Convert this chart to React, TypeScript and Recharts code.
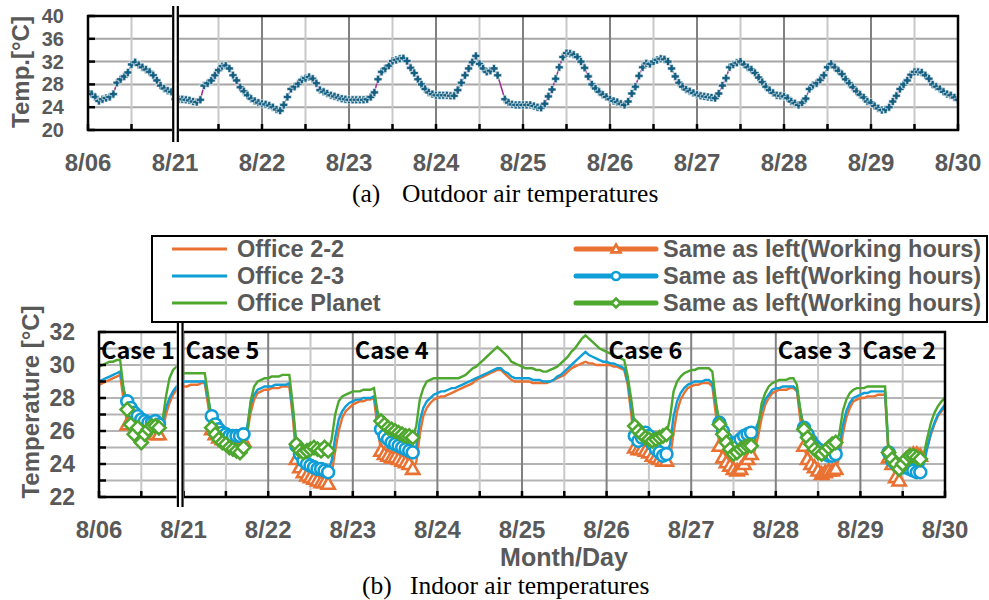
import React from "react";
import { LineChart, Line, XAxis, YAxis, CartesianGrid, ReferenceDot } from "recharts";

const FONT = "'Liberation Sans', Arial, sans-serif";
const CASE_FONT = "'Noto Sans CJK JP', 'Noto Sans', sans-serif";
const SERIF = "'Liberation Serif', 'DejaVu Serif', serif";
const GRAY = "#595959";
const ORANGE = "#E97132";
const BLUE = "#0F9ED5";
const GREEN = "#4EA72E";
const TEAL = "#156082";
const PURPLE = "#A02B93";

// 横軸: 8/06 の1日 + 8/21〜8/29 の9日 (日単位の数値軸)
const DAY_LABELS = ["8/06", "8/21", "8/22", "8/23", "8/24", "8/25", "8/26", "8/27", "8/28", "8/29", "8/30"];

// 外気温 (毎時, 1行=1日)
const OUTDOOR: (number | null)[][] = [
  [26.7, 26.3, 25.8, 25.1, 25.4, 25.6, 25.8, 26.3, 28.3, 28.9, 29.4, 30.1, 31.5, 31.9, 31.4, 31.0, 30.6, 30.2, 29.6, 28.7, 27.8, 27.3, 26.9, 26.7],
  [25.4, 25.4, 25.4, 25.3, 25.2, 25.0, 24.9, 25.3, 27.8, 28.2, 28.7, 29.6, 30.5, 31.2, 31.3, 30.8, 29.6, 28.7, 27.5, 26.8, 26.1, 25.5, 25.1, 24.8],
  [24.6, 24.5, 24.3, 24.0, 23.6, 23.4, 24.4, 25.8, 27.2, 27.6, 28.1, 28.8, 29.1, 29.3, 29.0, 28.2, 27.0, 26.7, 26.4, 26.1, 25.9, 25.7, 25.5, 25.4],
  [25.3, 25.3, 25.3, 25.3, 25.3, 25.4, 25.8, 26.6, 28.9, 30.2, 30.8, 31.3, 32.1, 32.3, 32.5, 32.6, 32.1, 30.9, 30.0, 28.9, 28.0, 27.2, 26.6, 26.3],
  [26.1, 26.1, 26.1, 26.1, 26.0, 26.0, 27.0, 28.3, 29.6, 30.8, 31.9, 33.0, 31.6, 30.8, 30.2, 30.4, 30.8, 29.6, null, 25.4, 24.8, 24.5, 24.4, 24.4],
  [24.4, 24.4, 24.4, 24.2, 24.0, 23.9, 24.6, 25.9, 27.1, 29.0, 31.0, 32.8, 33.5, 33.4, 33.2, 32.8, 32.0, 30.9, 29.4, 28.0, 27.3, 26.7, 26.2, 25.8],
  [25.4, 25.1, 24.9, 24.6, 24.4, 25.0, 26.4, 27.6, 29.5, 31.0, 31.7, 31.6, 32.0, 32.3, 32.5, 32.4, 32.0, 30.8, 29.4, 28.3, 27.6, 27.1, 26.8, 26.5],
  [26.2, 26.0, 25.9, 25.8, 25.7, 25.6, 26.4, 27.8, 29.1, 31.0, 31.5, 31.8, 32.0, 31.5, 31.0, 30.6, 30.0, 29.2, 28.4, 27.6, 27.0, 26.5, 26.1, 26.0],
  [25.9, 25.6, 25.0, 24.7, 24.4, 24.8, 25.5, 27.2, 27.9, 28.2, 28.8, 29.6, 31.0, 31.6, 31.0, 30.4, 29.8, 28.9, 28.2, 27.5, 26.8, 26.2, 25.7, 25.0],
  [24.8, 24.2, 23.8, 23.5, 23.6, 24.0, 25.0, 26.0, 27.2, 28.0, 28.7, 29.7, 30.2, 30.2, 30.1, 29.6, 29.0, 28.0, 27.6, 27.2, 26.7, 26.3, 26.1, 25.7],
];
const OUTDOOR_END = 25.3;

// 室温 Office 2-2
const OFFICE_22: number[][] = [
  [28.8, 28.9, 29.0, 29.1, 29.2, 29.3, 29.4, 27.8, 26.4, 26.7, 26.5, 26.3, 26.1, 26.0, 25.9, 25.9, 25.8, 25.8, 26.0, 27.0, 27.7, 28.2, 28.5, 28.6],
  [28.7, 28.7, 28.8, 28.8, 28.8, 28.9, 28.9, 27.5, 26.1, 25.8, 25.6, 25.5, 25.4, 25.3, 25.3, 25.3, 25.3, 25.4, 25.8, 27.1, 27.9, 28.3, 28.4, 28.5],
  [28.5, 28.6, 28.6, 28.6, 28.7, 28.7, 28.7, 26.8, 24.3, 23.8, 23.5, 23.3, 23.2, 23.1, 23.0, 22.9, 22.9, 22.8, 23.4, 24.8, 26.0, 26.8, 27.2, 27.4],
  [27.6, 27.7, 27.8, 27.8, 27.9, 27.9, 28.0, 26.2, 24.8, 24.6, 24.5, 24.4, 24.4, 24.3, 24.2, 24.1, 24.0, 23.7, 24.1, 25.8, 26.9, 27.4, 27.7, 27.9],
  [28.0, 28.1, 28.1, 28.2, 28.3, 28.4, 28.5, 28.6, 28.7, 28.8, 28.9, 29.1, 29.2, 29.3, 29.4, 29.5, 29.6, 29.7, 29.7, 29.5, 29.3, 29.1, 29.0, 29.0],
  [29.0, 29.0, 29.0, 28.9, 28.9, 28.9, 28.9, 28.9, 29.0, 29.1, 29.2, 29.3, 29.4, 29.6, 29.8, 29.9, 30.0, 30.1, 30.2, 30.1, 30.1, 30.0, 30.0, 30.0],
  [30.0, 30.0, 29.9, 29.9, 29.8, 29.7, 28.8, 27.0, 25.0, 24.9, 24.9, 24.8, 24.7, 24.5, 24.4, 24.3, 24.2, 24.2, 24.3, 25.9, 27.2, 27.9, 28.3, 28.6],
  [28.7, 28.8, 28.8, 28.9, 28.9, 28.9, 28.7, 27.0, 25.1, 24.4, 24.1, 23.9, 23.7, 23.6, 23.7, 24.0, 24.3, 24.6, 24.8, 25.7, 26.8, 27.6, 28.0, 28.3],
  [28.4, 28.5, 28.5, 28.5, 28.6, 28.6, 28.4, 26.6, 25.1, 24.3, 24.0, 23.8, 23.6, 23.4, 23.5, 23.6, 23.6, 23.7, 24.4, 25.8, 26.8, 27.4, 27.8, 27.9],
  [28.0, 28.0, 28.1, 28.1, 28.1, 28.2, 28.2, 28.2, 24.4, 24.0, 23.2, 23.0, 24.0, 24.3, 24.5, 24.6, 24.6, 24.5, 24.4, 25.0, 25.8, 26.4, 26.9, 27.2],
];
const OFFICE_22_END = 27.5;

// 室温 Office 2-3
const OFFICE_23: number[][] = [
  [29.0, 29.1, 29.2, 29.3, 29.4, 29.5, 29.6, 28.5, 27.8, 27.4, 27.1, 26.9, 26.7, 26.6, 26.5, 26.5, 26.6, 26.4, 26.6, 27.4, 28.0, 28.4, 28.7, 28.8],
  [29.0, 29.0, 29.0, 29.0, 29.0, 29.0, 29.0, 27.9, 26.9, 26.4, 26.1, 25.9, 25.8, 25.7, 25.7, 25.7, 25.7, 25.8, 26.2, 27.6, 28.2, 28.5, 28.6, 28.7],
  [28.7, 28.7, 28.8, 28.8, 28.8, 28.8, 28.9, 27.2, 25.1, 24.6, 24.2, 24.0, 23.9, 23.8, 23.7, 23.7, 23.6, 23.5, 24.2, 25.6, 26.7, 27.2, 27.5, 27.7],
  [27.8, 27.9, 27.9, 28.0, 28.0, 28.0, 28.1, 27.0, 26.1, 25.7, 25.5, 25.3, 25.2, 25.1, 25.0, 24.9, 24.8, 24.7, 25.0, 26.6, 27.4, 27.8, 28.0, 28.2],
  [28.3, 28.4, 28.4, 28.5, 28.6, 28.6, 28.7, 28.8, 28.9, 29.0, 29.1, 29.2, 29.3, 29.4, 29.5, 29.6, 29.7, 29.8, 29.8, 29.6, 29.5, 29.3, 29.2, 29.2],
  [29.2, 29.2, 29.2, 29.1, 29.1, 29.1, 29.0, 29.0, 29.0, 29.1, 29.3, 29.4, 29.6, 29.8, 30.0, 30.2, 30.4, 30.6, 30.8, 30.6, 30.5, 30.4, 30.3, 30.2],
  [30.2, 30.1, 30.1, 30.0, 29.9, 29.8, 29.0, 27.5, 25.7, 25.4, 25.6, 25.9, 25.7, 25.2, 24.9, 24.7, 24.5, 24.6, 25.2, 26.9, 27.8, 28.3, 28.6, 28.8],
  [28.9, 29.0, 29.0, 29.0, 29.1, 29.1, 28.9, 27.6, 26.5, 26.0, 25.5, 25.2, 25.1, 25.3, 25.5, 25.7, 25.8, 25.9, 26.0, 26.5, 27.3, 27.9, 28.2, 28.5],
  [28.6, 28.6, 28.7, 28.7, 28.7, 28.7, 28.5, 27.2, 26.2, 25.8, 25.4, 25.1, 24.9, 24.7, 24.6, 24.5, 24.5, 24.6, 25.0, 26.3, 27.2, 27.7, 28.0, 28.1],
  [28.2, 28.3, 28.3, 28.4, 28.4, 28.4, 28.4, 28.4, 24.7, 24.2, 24.0, 23.9, 23.8, 23.8, 23.7, 23.6, 23.5, 23.5, 24.0, 25.0, 25.9, 26.5, 27.0, 27.3],
];
const OFFICE_23_END = 27.6;

// 室温 Office Planet
const PLANET: number[][] = [
  [29.9, 30.0, 30.1, 30.2, 30.2, 30.3, 30.3, 28.5, 27.3, 26.4, 25.8, 26.2, 25.3, 25.8, 26.1, 26.3, 26.3, 26.2, 26.6, 28.1, 29.2, 29.7, 29.9, 30.0],
  [29.5, 29.5, 29.5, 29.5, 29.5, 29.5, 29.5, 28.1, 26.2, 25.8, 25.5, 25.3, 25.2, 25.0, 24.9, 24.8, 24.7, 25.0, 25.8, 27.8, 28.7, 29.0, 29.1, 29.2],
  [29.2, 29.3, 29.3, 29.3, 29.4, 29.4, 29.4, 27.5, 25.2, 24.8, 24.7, 24.8, 24.9, 25.0, 24.9, 24.8, 25.0, 24.8, 25.5, 27.0, 27.8, 28.1, 28.2, 28.3],
  [28.4, 28.4, 28.4, 28.5, 28.5, 28.5, 28.6, 27.2, 26.6, 26.4, 26.2, 26.1, 26.0, 25.9, 25.8, 25.7, 25.7, 25.6, 26.3, 27.9, 28.6, 29.0, 29.1, 29.2],
  [29.2, 29.2, 29.2, 29.2, 29.2, 29.2, 29.2, 29.3, 29.4, 29.6, 29.8, 29.9, 30.1, 30.3, 30.5, 30.7, 30.9, 31.1, 30.9, 30.7, 30.5, 30.2, 30.1, 30.0],
  [29.9, 29.8, 29.8, 29.8, 29.7, 29.7, 29.6, 29.6, 29.7, 29.8, 29.9, 30.1, 30.3, 30.5, 30.8, 31.0, 31.3, 31.6, 31.8, 31.6, 31.4, 31.2, 31.0, 30.9],
  [30.8, 30.7, 30.6, 30.5, 30.4, 30.3, 29.3, 27.9, 26.3, 26.0, 25.8, 25.6, 25.5, 25.4, 25.5, 25.6, 25.7, 25.8, 26.8, 28.4, 29.0, 29.3, 29.5, 29.6],
  [29.7, 29.7, 29.8, 29.8, 29.8, 29.8, 29.6, 27.8, 26.4, 25.8, 25.3, 24.9, 24.6, 24.7, 24.9, 25.0, 25.1, 25.1, 25.4, 26.3, 27.7, 28.3, 28.7, 28.9],
  [29.0, 29.1, 29.1, 29.1, 29.2, 29.2, 28.8, 27.2, 26.1, 25.6, 25.2, 24.9, 24.7, 24.6, 24.8, 25.0, 25.2, 25.3, 25.8, 27.2, 27.9, 28.3, 28.5, 28.6],
  [28.6, 28.6, 28.7, 28.7, 28.7, 28.7, 28.7, 28.7, 24.7, 24.3, 24.0, 23.7, 24.0, 24.3, 24.5, 24.5, 24.4, 24.3, 24.6, 25.6, 26.5, 27.1, 27.5, 27.8],
];
const PLANET_END = 28.0;

// 就業時間 (平日 8-17時)
const WORK_DAYS = [0, 1, 2, 3, 6, 7, 8, 9];
const WORK_HOURS = [8, 9, 10, 11, 12, 13, 14, 15, 16, 17];

const CASES = [
  { day: 0, text: "Case 1" },
  { day: 1, text: "Case 5" },
  { day: 3, text: "Case 4" },
  { day: 6, text: "Case 6" },
  { day: 8, text: "Case 3" },
  { day: 9, text: "Case 2" },
];

const INDOOR_SERIES = [
  { key: "o22", name: "Office 2-2", color: ORANGE, marker: "triangle" },
  { key: "o23", name: "Office 2-3", color: BLUE, marker: "circle" },
  { key: "planet", name: "Office Planet", color: GREEN, marker: "diamond" },
];
const WORK_LABEL = "Same as left(Working hours)";

const TOP_Y_TICKS = [20, 24, 28, 32, 36, 40];
const BOTTOM_Y_TICKS = [22, 23, 24, 25, 26, 27, 28, 29, 30, 31, 32];
const HALF_DAYS = Array.from({ length: 21 }, (_, i) => i / 2);
const DAY_LINES = HALF_DAYS.filter((v) => v % 1 === 0 && v > 0 && v < 10);
const HALF_LINES = HALF_DAYS.filter((v) => v % 1 !== 0);

// プロット領域 (px)
const TOP = { left: 88, right: 958, top: 16, bottom: 130, h: 200 };
const BOT = { left: 99, right: 945, top: 332, bottom: 497, y0: 300, h: 300 };
const TOP_BREAK = 1.006;
const BOT_BREAK = 0.96;

const rows: any[] = [];
for (let d = 0; d < 10; d++) {
  for (let h = 0; h < 24; h++) {
    const work = WORK_DAYS.includes(d) && WORK_HOURS.includes(h);
    rows.push({
      t: d + h / 24,
      outdoor: OUTDOOR[d][h],
      o22: OFFICE_22[d][h],
      o23: OFFICE_23[d][h],
      planet: PLANET[d][h],
      o22w: work ? OFFICE_22[d][h] : null,
      o23w: work ? OFFICE_23[d][h] : null,
      planetw: work ? PLANET[d][h] : null,
    });
  }
}
rows.push({ t: 10, outdoor: OUTDOOR_END, o22: OFFICE_22_END, o23: OFFICE_23_END, planet: PLANET_END, o22w: null, o23w: null, planetw: null });

const markerShape = (kind: string, cx: number, cy: number, color: string, s: number) => {
  if (kind === "circle") return <circle cx={cx} cy={cy} r={s * 0.9} fill="#fff" stroke={color} strokeWidth={2.6} />;
  if (kind === "triangle")
    return <path d={`M${cx},${cy - s} L${cx + s},${cy + s * 0.75} L${cx - s},${cy + s * 0.75} Z`} fill="#fff" stroke={color} strokeWidth={2.6} />;
  return <path d={`M${cx},${cy - s} L${cx + s},${cy} L${cx},${cy + s} L${cx - s},${cy} Z`} fill="#fff" stroke={color} strokeWidth={2.6} />;
};

const plusDot = (p: any) => {
  const { cx, cy, index } = p;
  if (cx == null || cy == null || p.value == null) return <g key={`p${index}`} />;
  const s = 4, w = 1.55;
  const d = `M${cx - w},${cy - s}H${cx + w}V${cy - w}H${cx + s}V${cy + w}H${cx + w}V${cy + s}H${cx - w}V${cy + w}H${cx - s}V${cy - w}H${cx - w}Z`;
  return <path key={`p${index}`} d={d} fill={TEAL} stroke="#fff" strokeWidth={0.6} />;
};

const markerDot = (kind: string, color: string) => (p: any) => {
  const { cx, cy, index } = p;
  if (cx == null || cy == null || p.value == null) return <g key={`m${index}`} />;
  return <g key={`m${index}`}>{markerShape(kind, cx, cy, color, 6.6)}</g>;
};

const yTick = (labelled: (v: number) => boolean, size: number) => (p: any) => {
  const { x, y, payload } = p;
  return (
    <g>
      <line x1={x} x2={x + 7} y1={y} y2={y} stroke="#000" strokeWidth={2.5} />
      {labelled(payload.value) && (
        <text x={x - 24} y={y} textAnchor="end" dominantBaseline="central" fill={GRAY} fontSize={size} fontWeight={700} fontFamily={FONT}>
          {payload.value}
        </text>
      )}
    </g>
  );
};

const xTick = (p: any) => {
  const { x, y, payload } = p;
  const v = payload.value;
  const isDay = Math.abs(v - Math.round(v)) < 1e-6;
  return (
    <g>
      <line x1={x} x2={x} y1={y} y2={y - 6} stroke="#000" strokeWidth={2.5} />
      {isDay && (
        <text x={x} y={y + 32} textAnchor="middle" dominantBaseline="central" fill={GRAY} fontSize={24} fontWeight={700} fontFamily={FONT}>
          {DAY_LABELS[Math.round(v)]}
        </text>
      )}
    </g>
  );
};

const caseLabel = (text: string) => (p: any) => {
  const vb = p.viewBox || {};
  return (
    <text x={(vb.x ?? 0) + 2} y={vb.y ?? 0} dominantBaseline="central" fill="#000" fontSize={23.5} fontWeight={700} fontFamily={CASE_FONT}>
      {text}
    </text>
  );
};

const breakMark = (cx: number, y1: number, y2: number) => (
  <g>
    <rect x={cx - 3.6} y={y1} width={7.2} height={y2 - y1} fill="#fff" />
    <line x1={cx - 2.3} x2={cx - 2.3} y1={y1} y2={y2} stroke="#000" strokeWidth={2.2} />
    <line x1={cx + 2.3} x2={cx + 2.3} y1={y1} y2={y2} stroke="#000" strokeWidth={2.2} />
  </g>
);

const LEGEND_ROWS = [249, 276, 303];

export default function App() {
  const topBreakX = TOP.left + ((TOP.right - TOP.left) * TOP_BREAK) / 10;
  const botBreakX = BOT.left + ((BOT.right - BOT.left) * BOT_BREAK) / 10;
  const legendText = { fill: GRAY, fontSize: 23.5, fontWeight: 700, fontFamily: FONT, dominantBaseline: "central" } as any;

  return (
    <div style={{ position: "absolute", left: 0, top: 0, width: 989, height: 600, background: "#fff", overflow: "hidden" }}>
      <div style={{ position: "absolute", left: 0, top: 0 }}>
        <LineChart width={989} height={TOP.h} data={rows} margin={{ top: TOP.top, right: 989 - TOP.right, left: 0, bottom: 0 }}>
          <CartesianGrid vertical={false} horizontalValues={[24, 28, 32, 36]} stroke="#a6a6a6" strokeWidth={2} />
          <CartesianGrid horizontal={false} verticalValues={HALF_LINES} stroke="#c8c8c8" strokeWidth={2} />
          <CartesianGrid horizontal={false} verticalValues={DAY_LINES} stroke="#808080" strokeWidth={2} />
          <XAxis type="number" dataKey="t" domain={[0, 10]} ticks={HALF_DAYS} interval={0} allowDataOverflow height={TOP.h - TOP.bottom} axisLine={false} tickLine={false} tickSize={0} tickMargin={0} tick={xTick} />
          <YAxis type="number" domain={[20, 40]} ticks={TOP_Y_TICKS} interval={0} allowDataOverflow width={TOP.left} axisLine={false} tickLine={false} tickSize={0} tickMargin={0} tick={yTick(() => true, 20)} />
          <Line dataKey="outdoor" type="linear" stroke={PURPLE} strokeWidth={1.5} connectNulls dot={plusDot} activeDot={false} isAnimationActive={false} />
        </LineChart>
      </div>

      <div style={{ position: "absolute", left: 0, top: BOT.y0 }}>
        <LineChart width={989} height={BOT.h} data={rows} margin={{ top: BOT.top - BOT.y0, right: 989 - BOT.right, left: 0, bottom: 0 }}>
          <CartesianGrid vertical={false} horizontalValues={BOTTOM_Y_TICKS.slice(1, -1)} stroke="#b4b4b4" strokeWidth={2} />
          <CartesianGrid horizontal={false} verticalValues={HALF_LINES} stroke="#c8c8c8" strokeWidth={2} />
          <CartesianGrid horizontal={false} verticalValues={DAY_LINES} stroke="#808080" strokeWidth={2} />
          <XAxis type="number" dataKey="t" domain={[0, 10]} ticks={HALF_DAYS} interval={0} allowDataOverflow height={BOT.y0 + BOT.h - BOT.bottom} axisLine={false} tickLine={false} tickSize={0} tickMargin={0} tick={xTick} />
          <YAxis type="number" domain={[22, 32]} ticks={BOTTOM_Y_TICKS} interval={0} allowDataOverflow width={BOT.left} axisLine={false} tickLine={false} tickSize={0} tickMargin={0} tick={yTick((v) => v % 2 === 0, 23)} />
          {INDOOR_SERIES.map((s) => (
            <Line key={s.key} dataKey={s.key} type="linear" stroke={s.color} strokeWidth={2.4} dot={false} activeDot={false} isAnimationActive={false} />
          ))}
          {INDOOR_SERIES.map((s) => (
            <Line key={s.key + "w"} dataKey={s.key + "w"} type="linear" stroke={s.color} strokeWidth={2.6} connectNulls={false} dot={markerDot(s.marker, s.color)} activeDot={false} isAnimationActive={false} />
          ))}
          {CASES.map((c) => (
            <ReferenceDot key={c.text} x={c.day} y={31} r={0} fill="none" stroke="none" label={caseLabel(c.text)} />
          ))}
        </LineChart>
      </div>

      <svg width={989} height={600} style={{ position: "absolute", left: 0, top: 0, pointerEvents: "none" }}>
        <rect x={TOP.left} y={TOP.top} width={TOP.right - TOP.left} height={TOP.bottom - TOP.top} fill="none" stroke="#000" strokeWidth={2.5} />
        <rect x={BOT.left} y={BOT.top} width={BOT.right - BOT.left} height={BOT.bottom - BOT.top} fill="none" stroke="#000" strokeWidth={2.5} />
        {breakMark(topBreakX, 6, 142)}
        {breakMark(botBreakX, 322, 507)}

        <text transform="translate(20,72) rotate(-90)" textAnchor="middle" dominantBaseline="central" fill={GRAY} fontSize={24} fontWeight={700} fontFamily={FONT}>
          Temp.[°C]
        </text>
        <text transform="translate(30,402) rotate(-90)" textAnchor="middle" dominantBaseline="central" fill={GRAY} fontSize={24} fontWeight={700} fontFamily={FONT}>
          Temperature [°C]
        </text>
        <text x={564} y={557} textAnchor="middle" dominantBaseline="central" fill={GRAY} fontSize={25} fontWeight={700} fontFamily={FONT}>
          Month/Day
        </text>

        <text x={352} y={193} dominantBaseline="central" fill="#000" fontSize={25.5} fontFamily={SERIF}>(a)</text>
        <text x={402} y={193} dominantBaseline="central" fill="#000" fontSize={25.5} fontFamily={SERIF}>Outdoor air temperatures</text>
        <text x={362} y={585.5} dominantBaseline="central" fill="#000" fontSize={25.5} fontFamily={SERIF}>(b)</text>
        <text x={410} y={585.5} dominantBaseline="central" fill="#000" fontSize={25.5} fontFamily={SERIF}>Indoor air temperatures</text>

        <rect x={152} y={236} width={835} height={86} fill="#fff" stroke="#000" strokeWidth={2} />
        {INDOOR_SERIES.map((s, i) => {
          const y = LEGEND_ROWS[i];
          return (
            <g key={s.key}>
              <line x1={172} x2={227} y1={y} y2={y} stroke={s.color} strokeWidth={3} />
              <text x={237} y={y} {...legendText}>{s.name}</text>
              <line x1={576} x2={656} y1={y} y2={y} stroke={s.color} strokeWidth={5} strokeLinecap="round" />
              {markerShape(s.marker, 616, y, s.color, 4.5)}
              <text x={663} y={y} {...legendText}>{WORK_LABEL}</text>
            </g>
          );
        })}
      </svg>
    </div>
  );
}
